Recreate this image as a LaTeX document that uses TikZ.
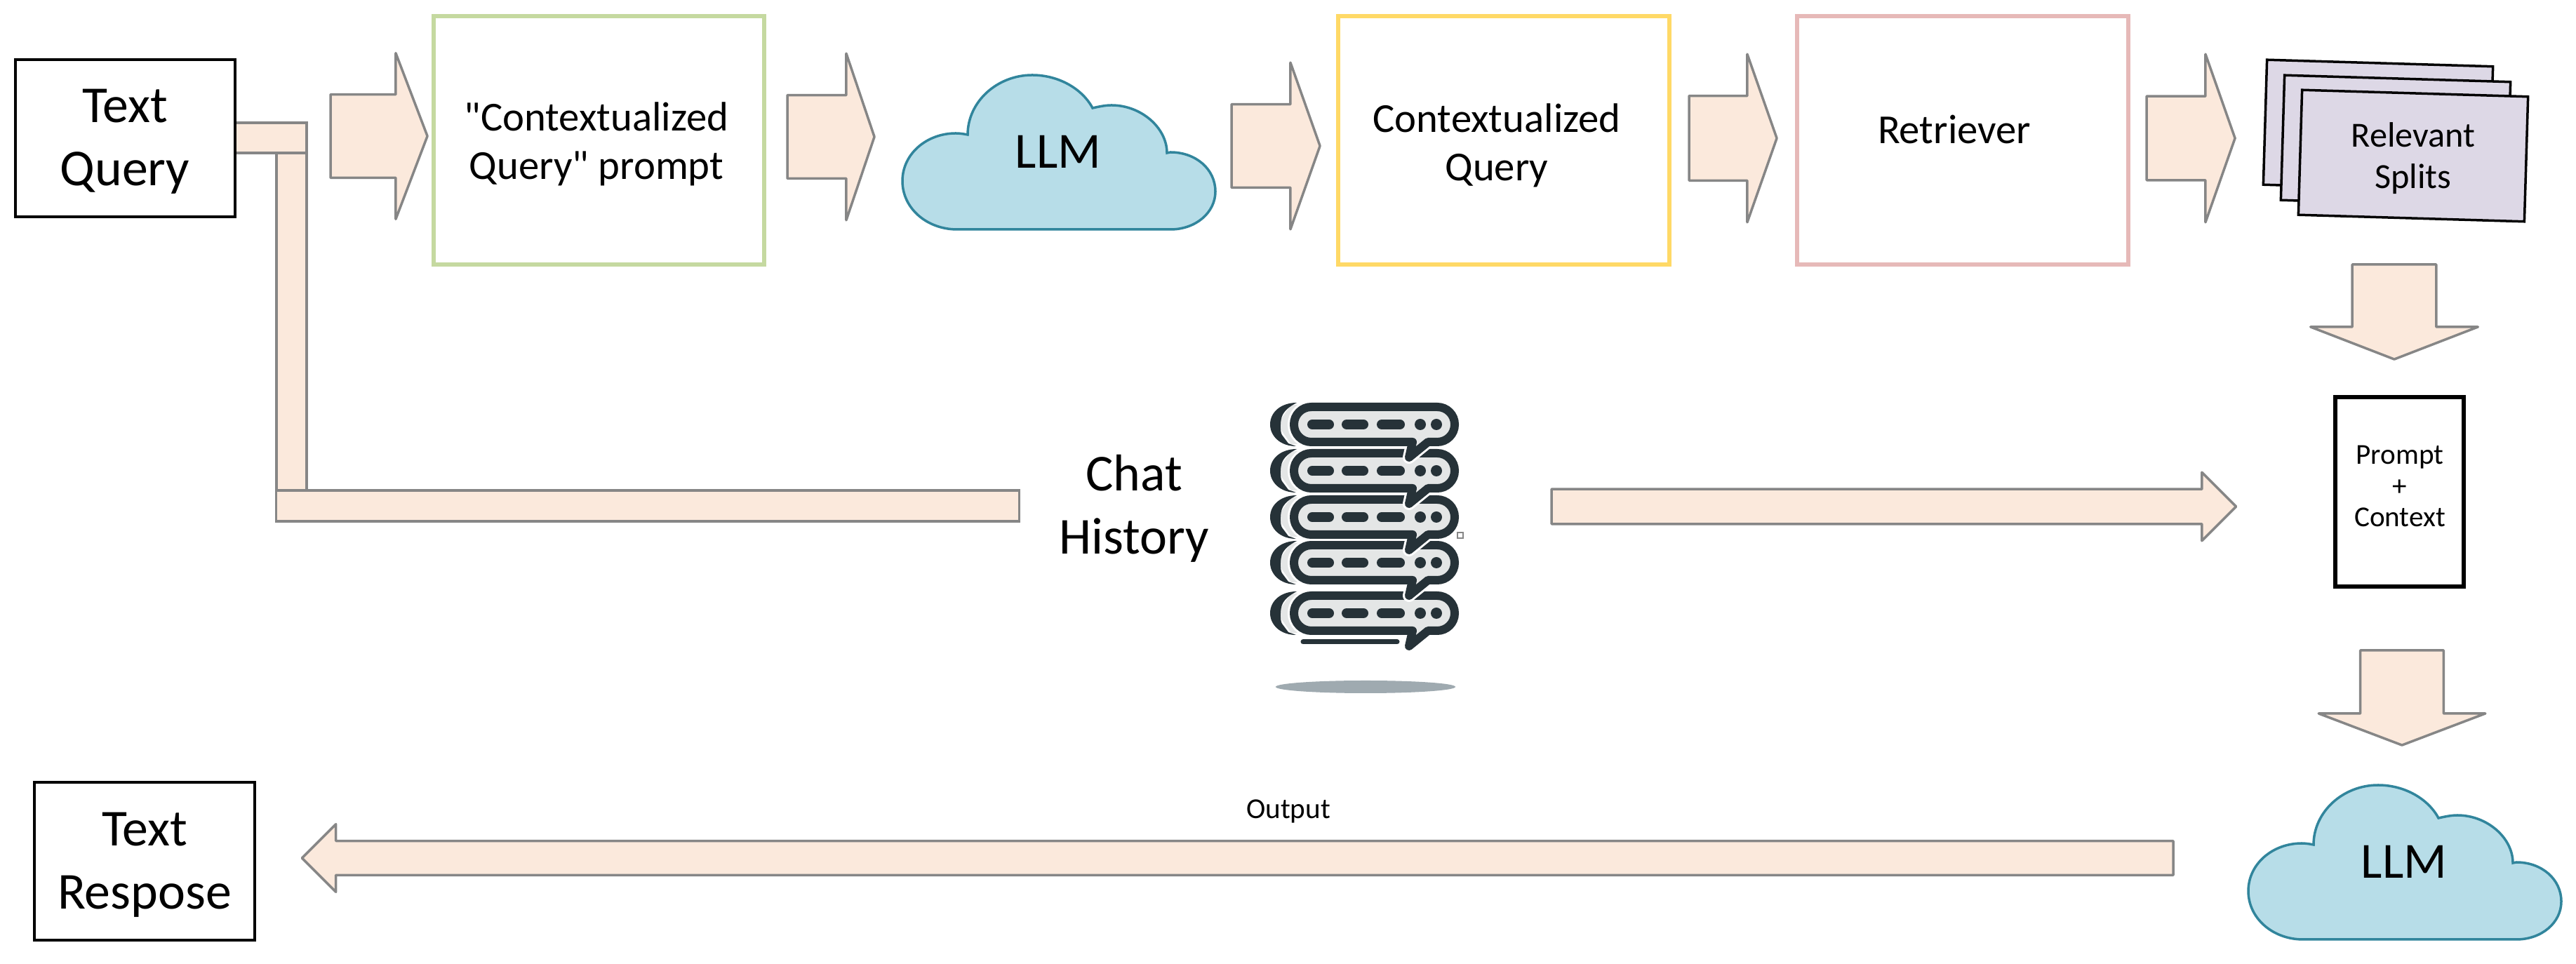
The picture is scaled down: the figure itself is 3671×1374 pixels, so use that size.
\documentclass[tikz,border=0pt]{standalone}
\usepackage{fontspec}
\setmainfont{Carlito}[Ligatures=TeXOff]
\usepackage{xcolor}
\usetikzlibrary{shapes.arrows}
\definecolor{ink}{HTML}{000000}
\definecolor{peach}{HTML}{FBE9DC}
\definecolor{slate}{HTML}{868686}
\definecolor{green}{HTML}{C5D9A0}
\definecolor{yellow}{HTML}{FFD966}
\definecolor{rose}{HTML}{E6B9B8}
\definecolor{sky}{HTML}{B7DDE8}
\definecolor{teal}{HTML}{31859C}
\definecolor{lilac}{HTML}{DDD8E6}
\definecolor{bubbleink}{HTML}{263238}
\definecolor{bubblefill}{HTML}{E4E6E6}
\definecolor{floor}{HTML}{9FAAB0}
\tikzset{
  flowarrow/.style n args={4}{single arrow,draw=slate,fill=peach,line width=.035cm,line join=round,inner xsep=0pt,inner ysep=(#3cm-.03cm)/2,outer sep=0pt,anchor=tail,
    minimum height=#1cm,minimum width=#2cm-.04cm,single arrow head extend=(#2cm-#3cm)/2,single arrow tip angle={2*atan(#2/2/#4)},single arrow head indent=0pt},
  flowdown/.style={shape border rotate=270,inner xsep=(#1cm-.03cm)/2,inner ysep=0pt},
  flowbar/.style={rectangle,draw=slate,fill=peach,line width=.035cm,inner sep=0pt,outer sep=0pt},
  stepbox/.style={rectangle,fill=white,line width=.06cm,inner sep=0pt,outer sep=0pt,minimum width=4.71cm,minimum height=3.53cm},
  endbox/.style={rectangle,draw=ink,fill=white,line width=.035cm,inner sep=0pt,outer sep=0pt},
  splitcard/.style={rectangle,draw=ink,fill=lilac,line width=.035cm,inner sep=0pt,outer sep=0pt,minimum width=3.22cm,minimum height=1.78cm,rotate=-1.7},
  bigtext/.style={anchor=base,align=center,inner sep=0pt,font=\fontsize{21}{25.6}\selectfont},
  midtext/.style={anchor=base,align=center,inner sep=0pt,font=\fontsize{16.7}{19.8}\selectfont},
  cardtext/.style={anchor=base,align=center,inner sep=0pt,font=\fontsize{14.3}{17}\selectfont},
  smalltext/.style={anchor=base,align=center,inner sep=0pt,font=\fontsize{11.7}{12.66}\selectfont},
  pics/llmcloud/.style={code={
    \draw[fill=sky,draw=teal,line width=.035cm] (78,220) .. controls (35,220) and (0,190) .. (0,151) .. controls (0,112) and (35,83) .. (76,83) .. controls (82,83) and (88,84) .. (93,85) .. controls (93,38) and (135,0) .. (185,0) .. controls (222,0) and (256,19) .. (271,47) .. controls (280,45) and (289,43) .. (298,43) .. controls (340,43) and (377,75) .. (377,111) .. controls (379,110) and (380,110) .. (382,110) .. controls (418,110) and (446,134) .. (446,166) .. controls (446,196) and (418,220) .. (382,220) -- cycle;
    \node[bigtext,font=\fontsize{20.5}{25.6}\selectfont] (-label) at (222,133) {LLM};}},
  pics/chatbubble/.style={code={
    \fill[bubblefill] (30,3) -- (10,31) -- (30,59) -- (50,59) -- (50,3) -- cycle;
    \fill[bubbleink] (38,0) .. controls (16,0) and (0,13) .. (0,31) .. controls (0,47) and (14,62) .. (37,62) -- (26,58) -- (17,46) .. controls (14,42) and (14,24) .. (18,17) .. controls (21,11) and (28,5) .. (38,0) -- cycle;
    \path[fill=bubblefill,draw=white,line width=.18cm,line join=round,rounded corners=.248cm] (100,6) -- (263,6) -- (263,56) [sharp corners] -- (225,56) -- (198,78) -- (203,56) [rounded corners=.248cm] -- (34,56) -- (34,6) -- cycle;
    \path[fill=bubblefill,draw=bubbleink,line width=.12cm,line join=round,rounded corners=.248cm] (100,6) -- (263,6) -- (263,56) [sharp corners] -- (225,56) -- (198,78) -- (203,56) [rounded corners=.248cm] -- (34,56) -- (34,6) -- cycle;
    \draw[bubbleink,line width=.14cm,line cap=round] (60,31) -- (84,31) (109,31) -- (133,31) (159,31) -- (185,31);
    \fill[bubbleink] (214,31) circle (.08cm) (237,31) circle (.08cm);}}
}
\begin{document}
\begin{tikzpicture}[x=.01cm,y=-.01cm]
\path[use as bounding box,fill=white] (0,0) rectangle (3671,1374);
\node[flowbar,minimum width=.43cm,minimum height=4.81cm] (riser) at (415.5,458.5) {};\node[flowbar,minimum width=1.02cm,minimum height=.43cm] (stub) at (386,196.5) {};
\node[flowbar,minimum width=10.58cm,minimum height=.44cm] (historybar) at (923,721) {};
\node[endbox,minimum width=3.13cm,minimum height=2.24cm] (querybox) at (178.5,197) {};\node[bigtext] (querytext) at (178,265) {Text\\Query};
\node[flowarrow={1.38}{2.36}{1.18}{.45}] (arrowA) at (471,194) {};\node[flowarrow={1.24}{2.37}{1.18}{.40}] (arrowB) at (1122,195) {};
\node[flowarrow={1.26}{2.37}{1.18}{.42}] (arrowC) at (1755,208) {};\node[flowarrow={1.25}{2.39}{1.20}{.42}] (arrowD) at (2407,197) {};
\node[flowarrow={1.26}{2.39}{1.19}{.42}] (arrowE) at (3059,197) {};
\node[stepbox,draw=green] (promptbox) at (853.5,200) {};\node[midtext] (prompttext) at (850,256) {"Contextualized\\Query" prompt};
\pic (cloudA) at (1286,107) {llmcloud};
\node[stepbox,draw=yellow,minimum width=4.72cm] (contextbox) at (2143,200) {};\node[midtext] (contexttext) at (2133,258) {Contextualized\\Query};
\node[stepbox,draw=rose,minimum width=4.72cm] (retrieverbox) at (2797,200) {};\node[midtext] (retrievertext) at (2785,205) {Retriever};
\node[splitcard] (cardC) at (3389,179) {};\node[splitcard] (cardB) at (3414,201) {};\node[splitcard] (cardA) at (3439,222) {};\node[cardtext] (cardtext) at (3439,269) {Relevant\\Splits};
\node[flowarrow={1.35}{2.38}{1.19}{.46},flowdown=1.19] (arrowF) at (3412,377) {};
\node[endbox,line width=.055cm,minimum width=1.83cm,minimum height=2.70cm] (contextpanel) at (3419.5,701) {};\node[smalltext] (paneltext) at (3420,751) {Prompt\\+\\Context};
\node[flowarrow={1.35}{2.37}{1.18}{.45},flowdown=1.18] (arrowG) at (3423,927) {};
\pic (cloudB) at (3204,1119) {llmcloud};
\node[bigtext] (chattext) at (1616,790) {Chat\\History};
\pic at (1810,843) {chatbubble};\pic at (1810,771) {chatbubble};\pic at (1810,706) {chatbubble};\pic at (1810,640) {chatbubble};\pic at (1810,574) {chatbubble};
\draw[bubbleink,line width=.07cm,line cap=round] (1857,915) -- (1991,915);
\fill[floor] (1946,979) ellipse [x radius=1.28cm,y radius=.09cm];
\node[rectangle,draw=slate,fill=white,line width=.012cm,inner sep=0pt,minimum size=.08cm] (handle) at (2081,763) {};
\node[flowarrow={9.75}{.97}{.49}{.485}] (arrowH) at (2211,722) {};
\node[flowarrow={26.65}{.96}{.48}{.48},shape border rotate=180] (arrowI) at (3097,1223) {};
\node[smalltext] (outputtext) at (1836,1167) {Output};
\node[endbox,minimum width=3.14cm,minimum height=2.25cm] (responsebox) at (206,1227.5) {};\node[bigtext] (responsetext) at (206,1296) {Text\\Respose};
\end{tikzpicture}
\end{document}
